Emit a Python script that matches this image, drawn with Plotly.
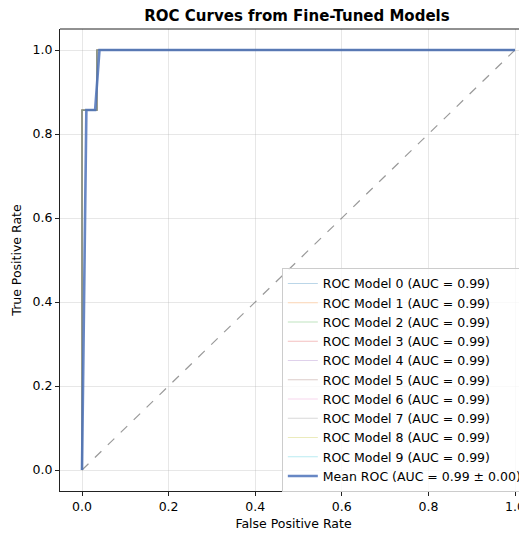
import plotly.graph_objects as go

model_names = [f"ROC Model {i} (AUC = 0.99)" for i in range(10)]
model_colors = ["#1f77b4", "#ff7f0e", "#2ca02c", "#d62728", "#9467bd",
                "#8c564b", "#e377c2", "#7f7f7f", "#bcbd22", "#17becf"]
model_fpr = [0.0, 0.0, 0.0, 0.0345, 0.0345, 1.0]
model_tpr = [0.0, 0.143, 0.857, 0.857, 1.0, 1.0]

mean_fpr = [0.0, 0.0101, 0.0202, 0.0303, 0.0404, 1.0]
mean_tpr = [0.0, 0.857, 0.857, 0.857, 1.0, 1.0]
mean_name = "Mean ROC (AUC = 0.99 ± 0.00)"

chance_x = [0.0, 1.0]
chance_y = [0.0, 1.0]

x_ticks = [0.0, 0.2, 0.4, 0.6, 0.8, 1.0]
y_ticks = [0.0, 0.2, 0.4, 0.6, 0.8, 1.0]


def rgba(hex_color, a):
    h = hex_color.lstrip("#")
    r, g, b = int(h[0:2], 16), int(h[2:4], 16), int(h[4:6], 16)
    return f"rgba({r},{g},{b},{a})"


fig = go.Figure()
fig.add_trace(go.Scatter(x=chance_x, y=chance_y, mode="lines",
                         line=dict(color="rgba(128,128,128,0.8)", width=1.2, dash="dash"),
                         showlegend=False, hoverinfo="skip"))
for name, col in zip(model_names, model_colors):
    fig.add_trace(go.Scatter(x=model_fpr, y=model_tpr, mode="lines", name=name,
                             line=dict(color=rgba(col, 0.3), width=1.2)))
fig.add_trace(go.Scatter(x=mean_fpr, y=mean_tpr, mode="lines", name=mean_name,
                         line=dict(color="rgba(76,114,186,0.85)", width=2.6)))

# page body has an 8px margin, so the figure is offset by 8px
W, H = 519, 526
font = "DejaVu Sans, sans-serif"
fig.update_layout(
    width=W, height=H,
    margin=dict(l=52, r=0, t=21, b=43, autoexpand=False),
    paper_bgcolor="white", plot_bgcolor="white",
    font=dict(family=font, size=12, color="black"),
    title=dict(text="<b>ROC Curves from Fine-Tuned Models</b>", x=(289 / W), xanchor="center",
               y=1 - 8 / H, yanchor="middle", font=dict(size=15, family=font)),
    legend=dict(x=0.475, y=0.483, xanchor="left", yanchor="top",
                bgcolor="rgba(255,255,255,0.8)", bordercolor="rgba(204,204,204,1)", borderwidth=1,
                font=dict(size=12.5, family=font), itemwidth=30, tracegroupgap=0),
    showlegend=True,
)
fig.update_xaxes(range=[-0.0508, 1.0277], tickvals=x_ticks, tickformat=".1f", automargin=False,
                 showgrid=True, gridcolor="rgba(176,176,176,0.3)", gridwidth=0.8,
                 zeroline=False, showline=True, linecolor="#222", linewidth=1,
                 ticks="outside", ticklen=4, tickcolor="#222", tickfont=dict(size=12.5),
                 title=dict(text="False Positive Rate", font=dict(size=12.5), standoff=6))
fig.update_yaxes(range=[-0.05, 1.05], tickvals=y_ticks, tickformat=".1f", automargin=False,
                 showgrid=True, gridcolor="rgba(176,176,176,0.3)", gridwidth=0.8,
                 zeroline=False, showline=True, linecolor="#222", linewidth=1,
                 ticks="outside", ticklen=4, tickcolor="#222", tickfont=dict(size=12.5),
                 title=dict(text="True Positive Rate", font=dict(size=12.5), standoff=8))
fig.add_shape(type="line", xref="paper", yref="paper", x0=0, x1=1, y0=1, y1=1,
              line=dict(color="#222", width=1))

fig.write_html("out.html")
